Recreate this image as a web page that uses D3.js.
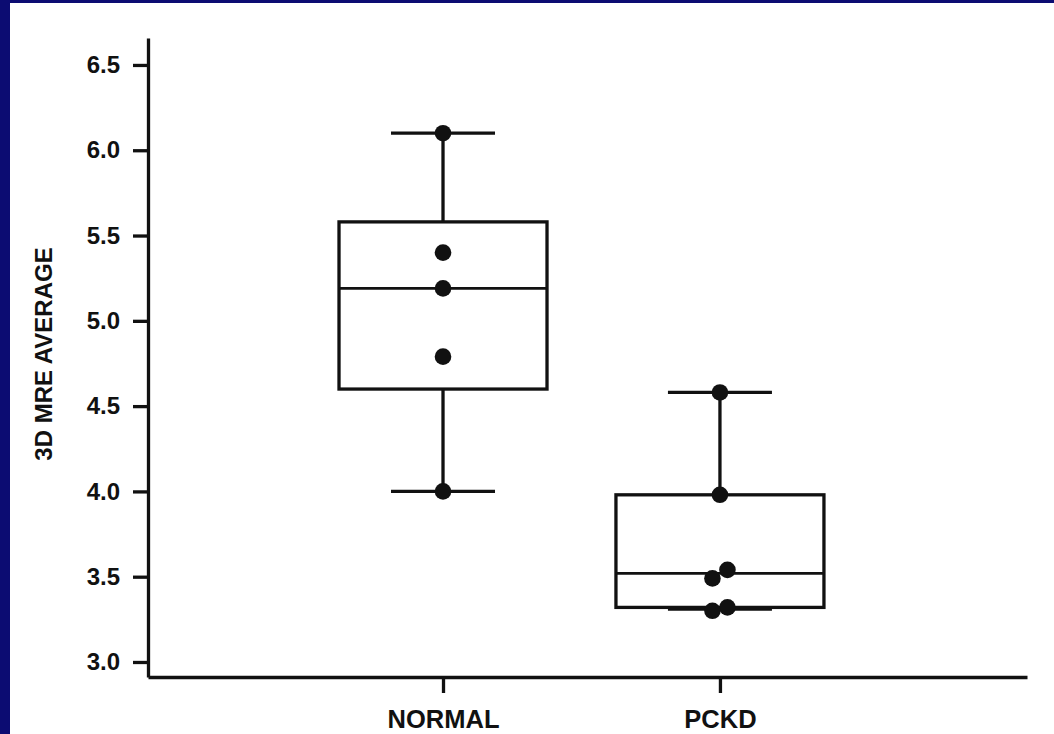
<!DOCTYPE html>
<html>
<head>
<meta charset="utf-8">
<script src="https://cdn.jsdelivr.net/npm/d3@7"></script>
<style>
  html, body { margin: 0; padding: 0; background: #0c0c72; }
  svg { display: block; }
  text { font-family: "Liberation Sans", Arial, sans-serif; font-weight: bold; fill: #111; }
</style>
</head>
<body>
<svg id="chart" width="1054" height="734"></svg>
<script>
// Groups on the x axis
const categories = ["NORMAL", "PCKD"];

// Individual measurements per group
const normalValues = [6.10, 5.40, 5.19, 4.79, 4.00];
const pckdValues = [4.58, 3.98, 3.54, 3.49, 3.32, 3.30];

// Box summary per group (same order as categories)
const whiskerLow = [4.00, 3.31];
const q1 = [4.60, 3.32];
const median = [5.19, 3.52];
const q3 = [5.58, 3.98];
const whiskerHigh = [6.10, 4.58];

// Y axis tick values and label
const yTicks = [3.0, 3.5, 4.0, 4.5, 5.0, 5.5, 6.0, 6.5];
const yLabel = "3D MRE AVERAGE";

const svg = d3.select("#chart");
const W = 1054, H = 734;

// white panel inside the navy frame
svg.append("rect").attr("x", 10).attr("y", 3).attr("width", W - 10).attr("height", H - 3).attr("fill", "#ffffff");

const x = d3.scalePoint().domain(categories).range([148, 1027]).padding(1.087).align(0.49);
const y = d3.scaleLinear().domain([2.912, 6.658]).range([677, 38]);

const ink = "#111";
const boxHalf = 104, capHalf = 52, dotR = 8.3, jitter = 7.5, lw = 3.3;

// axes
const yAxis = svg.append("g").attr("transform", "translate(148,0)")
  .call(d3.axisLeft(y).tickValues(yTicks).tickFormat(d3.format(".1f")).tickSize(15).tickSizeOuter(0).tickPadding(13));
const xAxis = svg.append("g").attr("transform", "translate(0,677)")
  .call(d3.axisBottom(x).tickSize(16).tickSizeOuter(0).tickPadding(17));

[yAxis, xAxis].forEach(g => {
  g.selectAll("path, line").attr("stroke", ink).attr("stroke-width", lw);
  g.selectAll("text").attr("fill", ink).style("font-family", "'Liberation Sans', Arial, sans-serif")
    .style("font-weight", "bold");
});
yAxis.selectAll("text").style("font-size", "24px");
xAxis.selectAll("text").style("font-size", "25.5px");

svg.append("text")
  .attr("transform", "translate(52,354) rotate(-90)")
  .attr("text-anchor", "middle")
  .style("font-size", "24px")
  .text(yLabel);

// boxes
const stats = categories.map((c, i) => ({
  c, lo: whiskerLow[i], q1: q1[i], med: median[i], q3: q3[i], hi: whiskerHigh[i]
}));

const gBox = svg.append("g").attr("stroke", ink).attr("stroke-width", lw).attr("fill", "none");
stats.forEach(s => {
  const cx = x(s.c);
  gBox.append("line").attr("x1", cx).attr("x2", cx).attr("y1", y(s.q3)).attr("y2", y(s.hi));
  gBox.append("line").attr("x1", cx).attr("x2", cx).attr("y1", y(s.q1)).attr("y2", y(s.lo));
  gBox.append("line").attr("x1", cx - capHalf).attr("x2", cx + capHalf).attr("y1", y(s.hi)).attr("y2", y(s.hi));
  gBox.append("line").attr("x1", cx - capHalf).attr("x2", cx + capHalf).attr("y1", y(s.lo)).attr("y2", y(s.lo));
  gBox.append("rect").attr("x", cx - boxHalf).attr("width", boxHalf * 2)
    .attr("y", y(s.q3)).attr("height", y(s.q1) - y(s.q3)).attr("fill", "none");
  gBox.append("line").attr("x1", cx - boxHalf).attr("x2", cx + boxHalf).attr("y1", y(s.med)).attr("y2", y(s.med)).attr("stroke-width", 2.8);
});

// points, nudged sideways when two values nearly coincide
const groups = [normalValues, pckdValues];
const pts = [];
groups.forEach((vals, gi) => {
  vals.forEach((v, i) => {
    let dx = 0;
    vals.forEach((o, j) => {
      if (j !== i && Math.abs(o - v) < 0.08) dx = v < o ? -jitter : jitter;
    });
    pts.push({ c: categories[gi], v, dx });
  });
});
svg.append("g").selectAll("circle").data(pts).join("circle")
  .attr("cx", d => x(d.c) + d.dx)
  .attr("cy", d => y(d.v))
  .attr("r", dotR)
  .attr("fill", ink);
</script>
</body>
</html>
